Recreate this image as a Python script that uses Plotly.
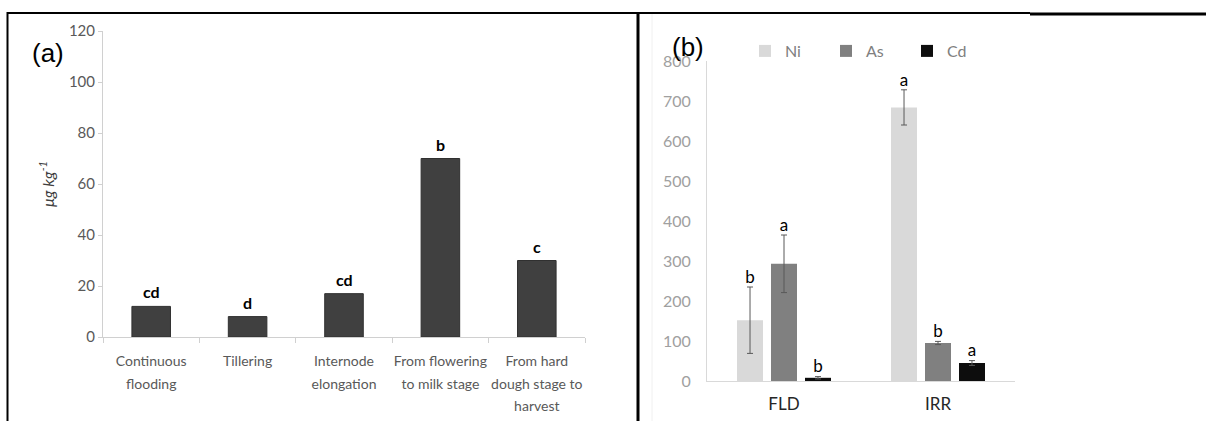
import plotly.graph_objects as go

# ---------------- data ----------------
stages = ["Continuous flooding", "Tillering", "Internode elongation",
          "From flowering to milk stage", "From hard dough stage to harvest"]
stage_ticktext = ["Continuous<br>flooding", "Tillering", "Internode<br>elongation",
                  "From flowering<br>to milk stage", "From hard<br>dough stage to<br>harvest"]
stage_values = [12, 8, 17, 70, 30]
stage_letters = ["cd", "d", "cd", "b", "c"]

treatments = ["FLD", "IRR"]
metals = ["Ni", "As", "Cd"]
metal_values = {"Ni": [152, 684], "As": [293, 95], "Cd": [8, 45]}
metal_errors = {"Ni": [83, 44], "As": [72, 4], "Cd": [3, 6]}
metal_letters = {"Ni": ["b", "a"], "As": ["a", "b"], "Cd": ["b", "a"]}
metal_colors = {"Ni": "#d9d9d9", "As": "#808080", "Cd": "#0d0d0d"}

W, H = 1206, 421
def px(x):
    return x / W
def py(y):
    return (H - y) / H

FONT = "Lato"
fig = go.Figure()

# ---------------- panel (a) ----------------
fig.add_trace(go.Bar(
    x=stages, y=stage_values, xaxis="x", yaxis="y", width=0.4,
    marker=dict(color="#404040", line=dict(color="#303030", width=1)),
    showlegend=False, hoverinfo="skip"))
for s, v, l in zip(stages, stage_values, stage_letters):
    fig.add_annotation(x=s, y=v, xref="x", yref="y", text="<b>%s</b>" % l,
                       showarrow=False, yanchor="bottom", yshift=3,
                       font=dict(family=FONT, size=16, color="#000000"))

# ---------------- panel (b) ----------------
for m in metals:
    fig.add_trace(go.Bar(
        name=m, x=treatments, y=metal_values[m], xaxis="x2", yaxis="y2",
        offsetgroup=m, marker=dict(color=metal_colors[m], line=dict(width=0)),
        error_y=dict(type="data", array=metal_errors[m], color="#595959",
                     thickness=1, width=3),
        hoverinfo="skip"))
for m in metals:
    tops = [v + e for v, e in zip(metal_values[m], metal_errors[m])]
    fig.add_trace(go.Scatter(
        x=treatments, y=tops, xaxis="x2", yaxis="y2", offsetgroup=m,
        mode="text", text=metal_letters[m], textposition="top center",
        textfont=dict(family=FONT, size=17, color="#000000"),
        showlegend=False, hoverinfo="skip"))

span = '<span style="font-size:14px">%s</span>'
tt = ["<br>".join(span % p for p in t.split("<br>")) for t in stage_ticktext]

fig.update_layout(
    width=W, height=H, margin=dict(l=0, r=0, t=0, b=0, autoexpand=False),
    paper_bgcolor="white", plot_bgcolor="white",
    barmode="group", bargap=0.338, bargroupgap=0.235,
    scattermode="group", scattergap=0.338,
    font=dict(family=FONT),
    xaxis=dict(domain=[px(103), px(585)], anchor="y", type="category",
               categoryorder="array", categoryarray=stages,
               tickmode="array", tickvals=stages, ticktext=tt, tickangle=0,
               tickfont=dict(family=FONT, size=17, color="#595959"),
               showline=True, linecolor="#d0d0d0", linewidth=1,
               ticks="outside", tickson="boundaries", ticklen=5, tickcolor="#d0d0d0",
               ticklabelstandoff=8,
               showgrid=False, zeroline=False, automargin=False),
    yaxis=dict(domain=[py(337), py(31)], anchor="x", range=[0, 120], dtick=20,
               tickfont=dict(family=FONT, size=15, color="#595959"),
               showline=True, linecolor="#d0d0d0", linewidth=1,
               ticks="outside", ticklen=4, tickcolor="#d0d0d0",
               showgrid=False, zeroline=False, automargin=False,
               title=dict(text="<i>μg kg<sup>-1</sup></i>", standoff=10,
                          font=dict(family=FONT, size=16, color="#404040"))),
    xaxis2=dict(domain=[px(707), px(1015)], anchor="y2", type="category",
                tickfont=dict(family=FONT, size=17, color="#262626"),
                showline=True, linecolor="#d9d9d9", linewidth=1,
                ticks="", ticklabelstandoff=8, tickangle=0,
                showgrid=False, zeroline=False, automargin=False),
    yaxis2=dict(domain=[py(381), py(61)], anchor="x2", range=[0, 800], dtick=100,
                tickfont=dict(family=FONT, size=16, color="#a0a0a0"),
                showline=True, linecolor="#d9d9d9", linewidth=1,
                ticks="", ticklabelstandoff=12,
                showgrid=False, zeroline=False, automargin=False),
    legend=dict(orientation="h", x=px(745), xanchor="left", y=py(51), yanchor="middle",
                font=dict(family=FONT, size=16, color="#808080"),
                entrywidth=36, entrywidthmode="pixels",
                bgcolor="rgba(0,0,0,0)", traceorder="normal"),
)

# panel labels
fig.add_annotation(x=px(30), y=py(53), xref="paper", yref="paper", text="(a)",
                   showarrow=False, xanchor="left", yanchor="middle",
                   font=dict(family="Liberation Sans", size=26, color="#000000"))
fig.add_annotation(x=px(670), y=py(47), xref="paper", yref="paper", text="(b)",
                   showarrow=False, xanchor="left", yanchor="middle",
                   font=dict(family="Liberation Sans", size=26, color="#000000"))

# table borders
line = dict(color="#000000", width=2)
fig.add_shape(type="line", xref="paper", yref="paper", x0=px(7), x1=px(1030),
              y0=py(13), y1=py(13), line=line)
fig.add_shape(type="line", xref="paper", yref="paper", x0=px(1030), x1=1,
              y0=py(14), y1=py(14), line=dict(color="#000000", width=3))
fig.add_shape(type="line", xref="paper", yref="paper", x0=px(7.5), x1=px(7.5),
              y0=0, y1=py(12), line=line)
fig.add_shape(type="line", xref="paper", yref="paper", x0=px(638), x1=px(638),
              y0=0, y1=py(12), line=dict(color="#000000", width=3))
fig.add_shape(type="line", xref="paper", yref="paper", x0=px(652), x1=px(652),
              y0=0, y1=py(14), line=dict(color="#f0f0f0", width=1))

fig.write_html("out.html")
